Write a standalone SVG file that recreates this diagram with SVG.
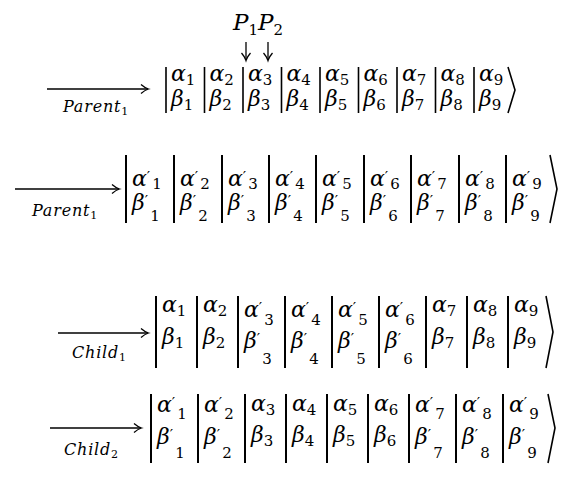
<svg xmlns="http://www.w3.org/2000/svg" width="563" height="483" viewBox="0 0 563 483">
<style>
.g{font-family:"DejaVu Serif","Liberation Serif",serif;font-style:italic;font-size:22px;fill:#000}
.s{font-family:"DejaVu Serif","Liberation Serif",serif;font-style:normal;font-size:15px}
.pr{font-family:"DejaVu Serif",serif;font-style:normal;font-size:15px;letter-spacing:2px}
.lb{font-family:"DejaVu Serif","Liberation Serif",serif;font-style:italic;font-size:16px;letter-spacing:0.8px;fill:#000}
.ls{font-family:"DejaVu Serif",serif;font-style:normal;font-size:11px;letter-spacing:0}
.bar{stroke:#000;stroke-width:2;fill:none}
.bar1{stroke:#000;stroke-width:1.6;fill:none}
.br{stroke:#000;stroke-width:1.6;fill:none;stroke-linejoin:miter}
.arr{stroke:#000;stroke-width:1.3;fill:none;marker-end:url(#ah)}
</style>
<defs>
<marker id="ah" markerUnits="userSpaceOnUse" markerWidth="12" markerHeight="12" refX="9" refY="6" orient="auto">
<path d="M2,1.5 Q6,5 9.5,6 Q6,7 2,10.5" fill="none" stroke="#000" stroke-width="1.3"/>
</marker>
</defs>
<rect width="563" height="483" fill="#fff"/>

<g id="cut-points">
<text class="g" x="233" y="30" style="font-size:23px">P<tspan class="s" style="font-size:15px" dy="5">1</tspan><tspan dy="-5">P</tspan><tspan class="s" style="font-size:15px" dy="5">2</tspan></text>
</g>

<g id="connectors">
<line class="arr" x1="246" y1="42" x2="246" y2="60"/>
<line class="arr" x1="268" y1="42" x2="268" y2="60"/>
<line class="arr" x1="47" y1="89" x2="148" y2="89"/>
<line class="arr" x1="15" y1="189" x2="119" y2="189"/>
<line class="arr" x1="58" y1="333" x2="148" y2="333"/>
<line class="arr" x1="50" y1="428" x2="141" y2="428"/>
<text class="lb" x="63" y="112">Parent<tspan class="ls" dy="3">1</tspan></text>
<text class="lb" x="32" y="216">Parent<tspan class="ls" dy="3">1</tspan></text>
<text class="lb" x="72" y="358">Child<tspan class="ls" dy="3">1</tspan></text>
<text class="lb" x="64" y="455">Child<tspan class="ls" dy="3">2</tspan></text>
</g>

<g id="parent1">
<path class="bar1" d="M166 67V113M204.5 67V113M243 67V113M281.5 67V113M320 67V113M358.5 67V113M397 67V113M435.5 67V113M474 67V113"/>
<path class="br" d="M508 67L515 90L508 113"/>
<text class="g" x="171" y="81">α<tspan class="s" dy="4">1</tspan></text><text class="g" x="171" y="106">β<tspan class="s" dy="4">1</tspan></text>
<text class="g" x="209.5" y="81">α<tspan class="s" dy="4">2</tspan></text><text class="g" x="209.5" y="106">β<tspan class="s" dy="4">2</tspan></text>
<text class="g" x="248" y="81">α<tspan class="s" dy="4">3</tspan></text><text class="g" x="248" y="106">β<tspan class="s" dy="4">3</tspan></text>
<text class="g" x="286.5" y="81">α<tspan class="s" dy="4">4</tspan></text><text class="g" x="286.5" y="106">β<tspan class="s" dy="4">4</tspan></text>
<text class="g" x="325" y="81">α<tspan class="s" dy="4">5</tspan></text><text class="g" x="325" y="106">β<tspan class="s" dy="4">5</tspan></text>
<text class="g" x="363.5" y="81">α<tspan class="s" dy="4">6</tspan></text><text class="g" x="363.5" y="106">β<tspan class="s" dy="4">6</tspan></text>
<text class="g" x="402" y="81">α<tspan class="s" dy="4">7</tspan></text><text class="g" x="402" y="106">β<tspan class="s" dy="4">7</tspan></text>
<text class="g" x="440.5" y="81">α<tspan class="s" dy="4">8</tspan></text><text class="g" x="440.5" y="106">β<tspan class="s" dy="4">8</tspan></text>
<text class="g" x="479" y="81">α<tspan class="s" dy="4">9</tspan></text><text class="g" x="479" y="106">β<tspan class="s" dy="4">9</tspan></text>
</g>

<g id="parent2">
<path class="bar" d="M126 155V223M174 155V223M222 155V223M269 155V223M316 155V223M364 155V223M411 155V223M459 155V223M506 155V223"/>
<path class="br" d="M550 155L557 189L550 223"/>
<text class="g" x="132" y="186">α<tspan class="pr" dy="-4">′</tspan><tspan class="s" dy="7">1</tspan></text><text class="g" x="132" y="210">β<tspan class="pr" dy="-4">′</tspan><tspan class="s" dy="15">1</tspan></text>
<text class="g" x="180" y="186">α<tspan class="pr" dy="-4">′</tspan><tspan class="s" dy="7">2</tspan></text><text class="g" x="180" y="210">β<tspan class="pr" dy="-4">′</tspan><tspan class="s" dy="15">2</tspan></text>
<text class="g" x="228" y="186">α<tspan class="pr" dy="-4">′</tspan><tspan class="s" dy="7">3</tspan></text><text class="g" x="228" y="210">β<tspan class="pr" dy="-4">′</tspan><tspan class="s" dy="15">3</tspan></text>
<text class="g" x="275" y="186">α<tspan class="pr" dy="-4">′</tspan><tspan class="s" dy="7">4</tspan></text><text class="g" x="275" y="210">β<tspan class="pr" dy="-4">′</tspan><tspan class="s" dy="15">4</tspan></text>
<text class="g" x="322" y="186">α<tspan class="pr" dy="-4">′</tspan><tspan class="s" dy="7">5</tspan></text><text class="g" x="322" y="210">β<tspan class="pr" dy="-4">′</tspan><tspan class="s" dy="15">5</tspan></text>
<text class="g" x="370" y="186">α<tspan class="pr" dy="-4">′</tspan><tspan class="s" dy="7">6</tspan></text><text class="g" x="370" y="210">β<tspan class="pr" dy="-4">′</tspan><tspan class="s" dy="15">6</tspan></text>
<text class="g" x="417" y="186">α<tspan class="pr" dy="-4">′</tspan><tspan class="s" dy="7">7</tspan></text><text class="g" x="417" y="210">β<tspan class="pr" dy="-4">′</tspan><tspan class="s" dy="15">7</tspan></text>
<text class="g" x="465" y="186">α<tspan class="pr" dy="-4">′</tspan><tspan class="s" dy="7">8</tspan></text><text class="g" x="465" y="210">β<tspan class="pr" dy="-4">′</tspan><tspan class="s" dy="15">8</tspan></text>
<text class="g" x="512" y="186">α<tspan class="pr" dy="-4">′</tspan><tspan class="s" dy="7">9</tspan></text><text class="g" x="512" y="210">β<tspan class="pr" dy="-4">′</tspan><tspan class="s" dy="15">9</tspan></text>
</g>

<g id="child1">
<path class="bar" d="M156 296V368M197 296V368M238 296V368M285 296V368M332 296V368M379 296V368M426 296V368M467 296V368M508 296V368"/>
<path class="br" d="M546 296L553 332L546 368"/>
<text class="g" x="162" y="312">α<tspan class="s" dy="4">1</tspan></text><text class="g" x="162" y="344">β<tspan class="s" dy="4">1</tspan></text>
<text class="g" x="203" y="312">α<tspan class="s" dy="4">2</tspan></text><text class="g" x="203" y="344">β<tspan class="s" dy="4">2</tspan></text>
<text class="g" x="244" y="317">α<tspan class="pr" dy="-4">′</tspan><tspan class="s" dy="12">3</tspan></text><text class="g" x="244" y="348">β<tspan class="pr" dy="-4">′</tspan><tspan class="s" dy="20">3</tspan></text>
<text class="g" x="291" y="317">α<tspan class="pr" dy="-4">′</tspan><tspan class="s" dy="12">4</tspan></text><text class="g" x="291" y="348">β<tspan class="pr" dy="-4">′</tspan><tspan class="s" dy="20">4</tspan></text>
<text class="g" x="338" y="317">α<tspan class="pr" dy="-4">′</tspan><tspan class="s" dy="12">5</tspan></text><text class="g" x="338" y="348">β<tspan class="pr" dy="-4">′</tspan><tspan class="s" dy="20">5</tspan></text>
<text class="g" x="385" y="317">α<tspan class="pr" dy="-4">′</tspan><tspan class="s" dy="12">6</tspan></text><text class="g" x="385" y="348">β<tspan class="pr" dy="-4">′</tspan><tspan class="s" dy="20">6</tspan></text>
<text class="g" x="432" y="312">α<tspan class="s" dy="4">7</tspan></text><text class="g" x="432" y="344">β<tspan class="s" dy="4">7</tspan></text>
<text class="g" x="473" y="312">α<tspan class="s" dy="4">8</tspan></text><text class="g" x="473" y="344">β<tspan class="s" dy="4">8</tspan></text>
<text class="g" x="514" y="312">α<tspan class="s" dy="4">9</tspan></text><text class="g" x="514" y="344">β<tspan class="s" dy="4">9</tspan></text>
</g>

<g id="child2">
<path class="bar" d="M151 394V463M198 394V463M245 394V463M286 394V463M327 394V463M368 394V463M409 394V463M456 394V463M503 394V463"/>
<path class="br" d="M548 394L555 428L548 463"/>
<text class="g" x="157" y="412">α<tspan class="pr" dy="-4">′</tspan><tspan class="s" dy="11">1</tspan></text><text class="g" x="157" y="444">β<tspan class="pr" dy="-4">′</tspan><tspan class="s" dy="18">1</tspan></text>
<text class="g" x="204" y="412">α<tspan class="pr" dy="-4">′</tspan><tspan class="s" dy="11">2</tspan></text><text class="g" x="204" y="444">β<tspan class="pr" dy="-4">′</tspan><tspan class="s" dy="18">2</tspan></text>
<text class="g" x="251" y="411">α<tspan class="s" dy="4">3</tspan></text><text class="g" x="251" y="442">β<tspan class="s" dy="4">3</tspan></text>
<text class="g" x="292" y="411">α<tspan class="s" dy="4">4</tspan></text><text class="g" x="292" y="442">β<tspan class="s" dy="4">4</tspan></text>
<text class="g" x="333" y="411">α<tspan class="s" dy="4">5</tspan></text><text class="g" x="333" y="442">β<tspan class="s" dy="4">5</tspan></text>
<text class="g" x="374" y="411">α<tspan class="s" dy="4">6</tspan></text><text class="g" x="374" y="442">β<tspan class="s" dy="4">6</tspan></text>
<text class="g" x="415" y="412">α<tspan class="pr" dy="-4">′</tspan><tspan class="s" dy="11">7</tspan></text><text class="g" x="415" y="444">β<tspan class="pr" dy="-4">′</tspan><tspan class="s" dy="18">7</tspan></text>
<text class="g" x="462" y="412">α<tspan class="pr" dy="-4">′</tspan><tspan class="s" dy="11">8</tspan></text><text class="g" x="462" y="444">β<tspan class="pr" dy="-4">′</tspan><tspan class="s" dy="18">8</tspan></text>
<text class="g" x="509" y="412">α<tspan class="pr" dy="-4">′</tspan><tspan class="s" dy="11">9</tspan></text><text class="g" x="509" y="444">β<tspan class="pr" dy="-4">′</tspan><tspan class="s" dy="18">9</tspan></text>
</g>
</svg>
